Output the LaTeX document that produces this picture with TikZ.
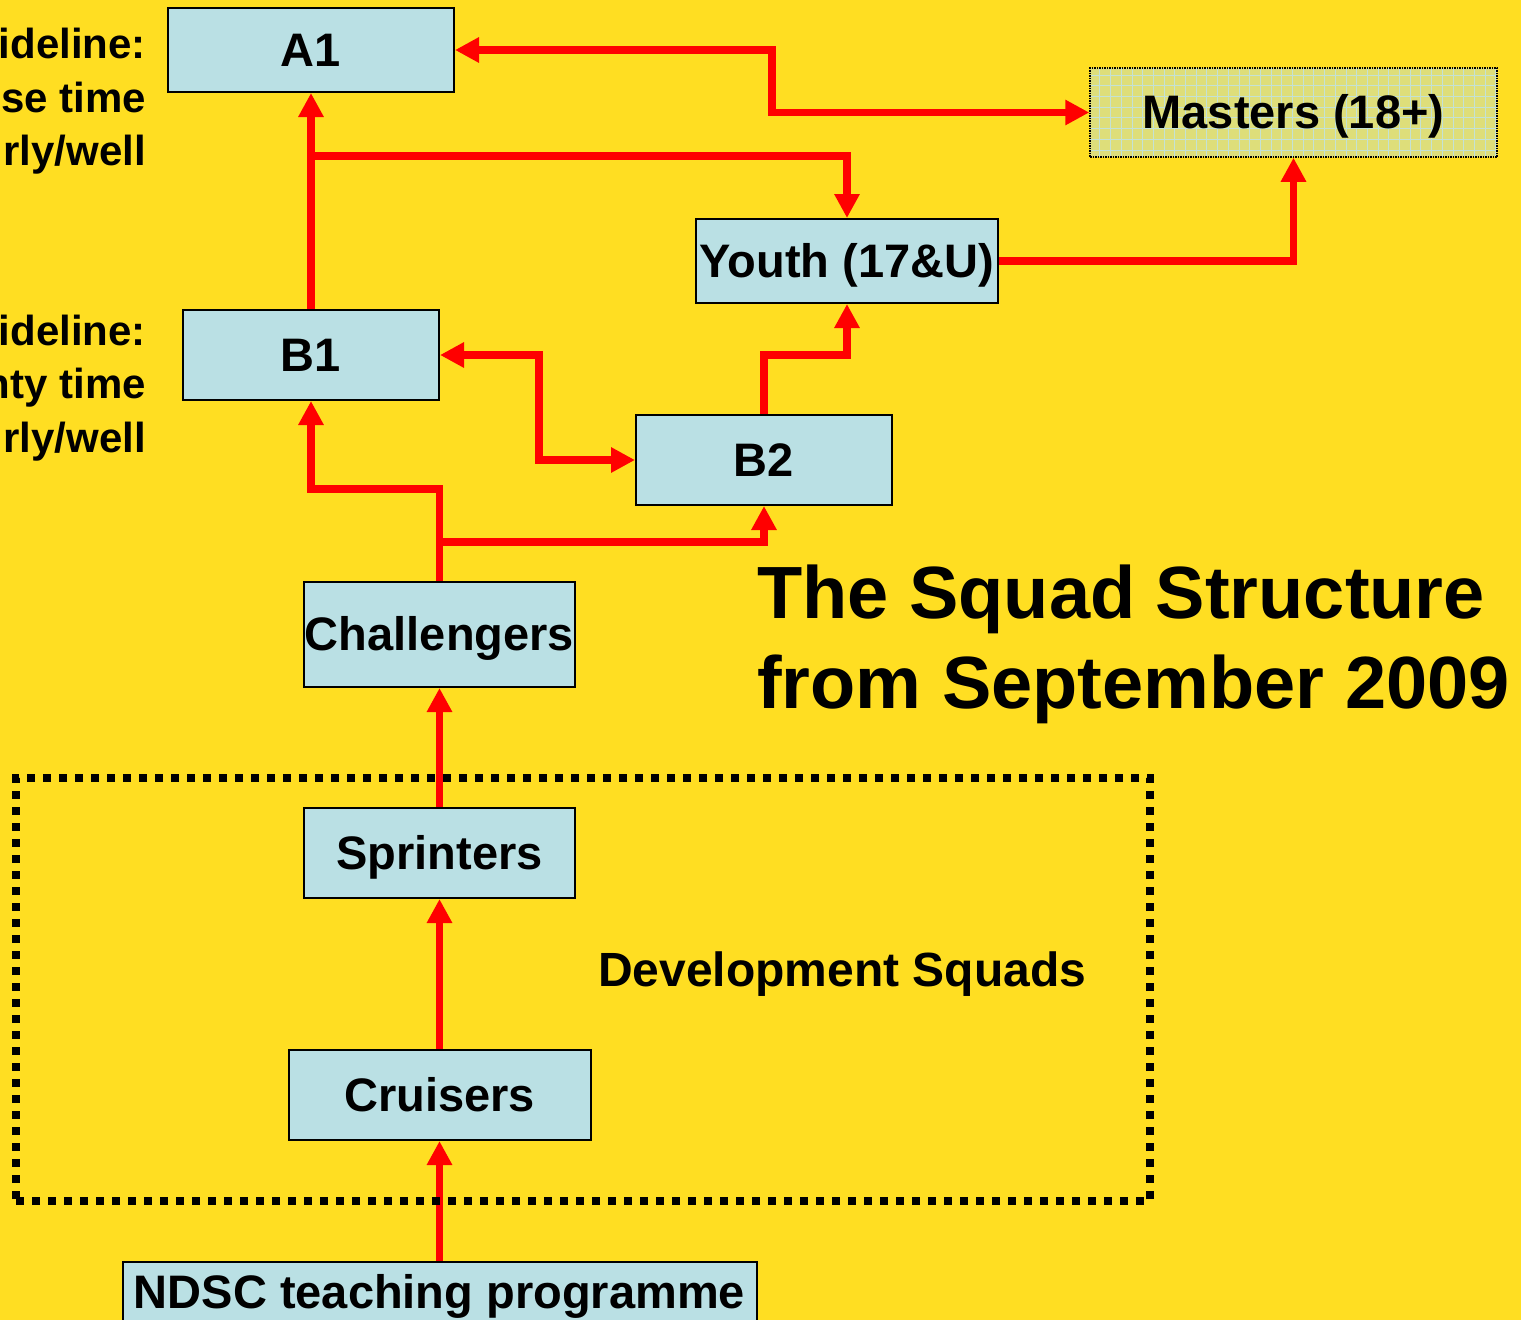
\documentclass[tikz,border=0pt]{standalone}
\usepackage{fontspec}
\setmainfont{Liberation Sans}
\usetikzlibrary{arrows.meta, positioning}

\definecolor{bgyellow}{RGB}{255,222,34}
\definecolor{boxblue}{RGB}{186,224,228}
\definecolor{masterfill}{RGB}{222,222,122}
\definecolor{gridblue}{RGB}{196,226,214}

\tikzset{
  squad/.style={draw, line width=2pt, fill=boxblue, inner sep=0pt,
    text height=32pt, text depth=0pt,
    font=\fontsize{47}{56}\selectfont\bfseries},
  link/.style={draw=red, line width=7.5pt},
  note/.style={anchor=base east, inner sep=0pt,
    font=\fontsize{42}{54}\selectfont\bfseries},
  headline/.style={anchor=base west, inner sep=0pt,
    font=\fontsize{74}{90}\selectfont\bfseries},
}

\begin{document}
\begin{tikzpicture}[x=1pt, y=-1pt, >={Triangle[length=24pt, width=24pt]}]
\fill[bgyellow] (0,0) rectangle (1521,1320);
\useasboundingbox (0,0) rectangle (1521,1320);

\node (A1) [squad, minimum width=286pt, minimum height=84pt] at (311,50) {A1};
\node (Masters) [squad, fill=masterfill, line width=1.5pt, densely dotted,
  minimum width=407pt, minimum height=89pt,
  path picture={\draw[gridblue, line width=0.8pt, solid]
    (path picture bounding box.south west) grid[step=10.7pt]
    (path picture bounding box.north east);}] at (1293.5,112.5) {Masters (18+)};
\node (Youth) [squad, minimum width=302pt, minimum height=84pt] at (847,261) {Youth (17\&U)};
\node (B1) [squad, minimum width=256pt, minimum height=90pt] at (311,355) {B1};
\node (B2) [squad, minimum width=256pt, minimum height=90pt] at (764,460) {B2};
\node (Challengers) [squad, minimum width=271pt, minimum height=105pt] at (439.5,634.5) {Challengers};
\node (Sprinters) [squad, minimum width=271pt, minimum height=90pt, below=119pt of Challengers] {Sprinters};
\node (Cruisers) [squad, minimum width=302pt, minimum height=90pt, below=150pt of Sprinters] {Cruisers};
\node (NDSC) [squad, minimum width=634pt, minimum height=60pt, below=120pt of Cruisers] {NDSC teaching programme};

% notes on the left, cut by the page edge
\node (noteA1a) [note] at (146,58) {ideline:};
\node (noteA1b) [note] at (146,112) {se time};
\node (noteA1c) [note] at (146,165) {rly/well};
\node (noteB1a) [note] at (146,345) {ideline:};
\node (noteB1b) [note] at (146,398) {nty time};
\node (noteB1c) [note] at (146,452) {rly/well};

\node (title1) [headline] at (757,618) {The Squad Structure};
\node (title2) [headline] at (757,708) {from September 2009};
\node (devlabel) [anchor=base west, inner sep=0pt,
  font=\fontsize{48}{56}\selectfont\bfseries] at (598,986) {Development Squads};

% connectors
\path (A1.south) ++(0,63) coordinate (splitA);
\path (Challengers.north) ++(0,-39) coordinate (splitC);

\draw[link, ->] (B1) -- (A1);
\draw[link, ->] (splitA) -| (Youth.north);
\draw[link, <->] (A1.east) -- ++(317,0) |- (Masters.west);
\draw[link, ->] (Youth.east) -| (Masters.south);
\draw[link, ->] (B2.north) -- ++(0,-59) -| (Youth.south);
\draw[link, <->] (B1.east) -- ++(99,0) |- (B2.west);
\draw[link, ->] (Challengers.north) -- ++(0,-92) -| (B1.south);
\draw[link, ->] (splitC) -| (B2.south);
\draw[link, ->] (Sprinters) -- (Challengers);
\draw[link, ->] (Cruisers) -- (Sprinters);
\draw[link, ->] (NDSC) -- (Cruisers);

\node (devframe) [draw, line width=8pt, dash pattern=on 8pt off 8pt,
  minimum width=1134pt, minimum height=423pt] at (583,989.5) {};
%
\end{tikzpicture}
\end{document}
